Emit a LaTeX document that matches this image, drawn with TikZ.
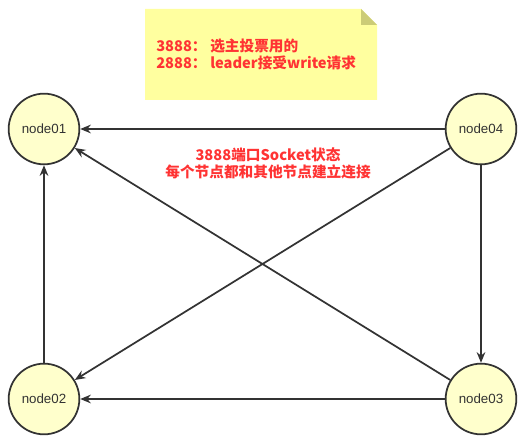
\documentclass[tikz,border=0pt]{standalone}
\usepackage{fontspec}
\setmainfont{Liberation Sans}
\newfontfamily\cjk{Noto Sans CJK SC}
\usetikzlibrary{arrows.meta}
\definecolor{nodefill}{HTML}{FFFFCC}
\definecolor{notefill}{HTML}{FFFF9F}
\definecolor{notefold}{HTML}{CCCC77}
\definecolor{redtext}{HTML}{FF3333}
\tikzset{
  zknode/.style={circle, draw=black!80, line width=1.3pt, fill=nodefill, minimum size=53pt,
    inner sep=0pt, text=black!80, font=\fontsize{10}{12}\selectfont},
  link/.style={draw=black!80, line width=1.3pt, -{Stealth[length=8pt,width=6.5pt]}},
  redlabel/.style={text=redtext, font=\cjk\bfseries\fontsize{11}{12.75}\selectfont, inner sep=0pt}
}
\begin{document}
\begin{tikzpicture}[x=0.75pt,y=-0.75pt]
  \useasboundingbox (0,0) rectangle (525,441);
  % note
  \fill[notefill] (145,9) -- (361,9) -- (377,25) -- (377,100) -- (145,100) -- cycle;
  \fill[notefold] (361,9) -- (377,25) -- (361,25) -- cycle;
  \node[redlabel, anchor=west, align=left] (ports) at (156,54.5)
    {\makebox[40.5pt][l]{3888：}选主投票用的\\\makebox[40.5pt][l]{2888：}leader接受write请求};
  \node[redlabel, align=center] (socket) at (268,163.5)
    {3888端口Socket状态\\每个节点都和其他节点建立连接};
  % servers
  \node[zknode] (node01) at (44,129) {node01};
  \node[zknode] (node04) at (481,129) {node04};
  \node[zknode] (node02) at (44,399) {node02};
  \node[zknode] (node03) at (481,399) {node03};
  \draw[link] (node04) -- (node01);
  \draw[link] (node03) -- (node01);
  \draw[link] (node02) -- (node01);
  \draw[link] (node04) -- (node02);
  \draw[link] (node03) -- (node02);
  \draw[link] (node04) -- (node03);
\end{tikzpicture}
\end{document}
